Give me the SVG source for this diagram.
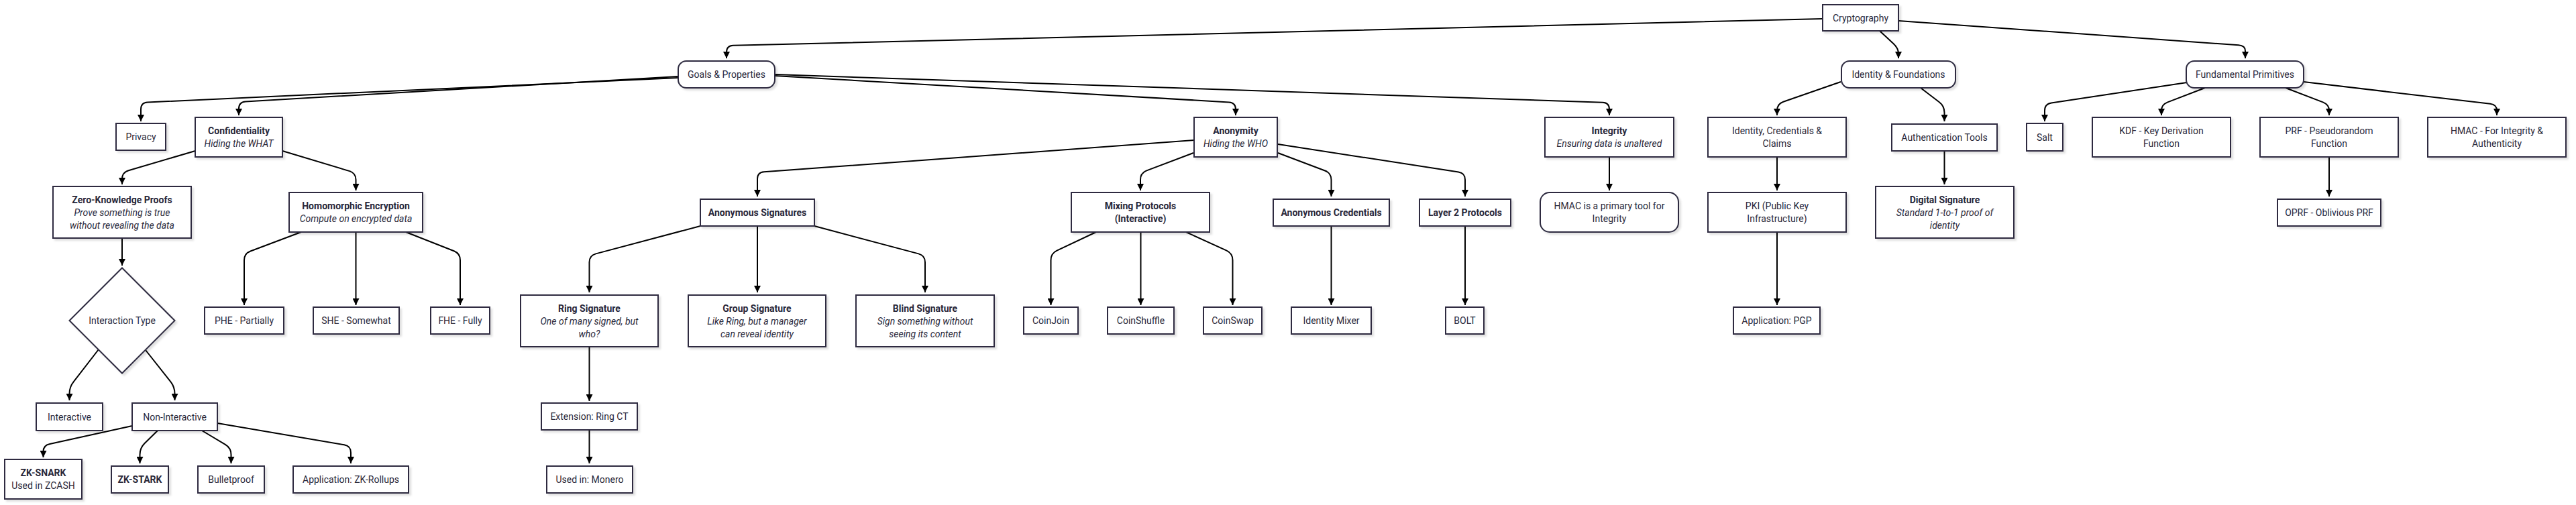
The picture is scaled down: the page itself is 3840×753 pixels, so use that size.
<svg xmlns="http://www.w3.org/2000/svg" width="3840" height="753" viewBox="0 0 3840 753">
<style>
.n{fill:#fff;stroke:#2d2c40;stroke-width:2;filter:url(#sh)}
text{font-family:Roboto,"Liberation Sans",sans-serif;font-size:14px;fill:#29283a;text-anchor:middle;dominant-baseline:central}
.b{font-weight:bold}
.i{font-style:italic}
.e path{fill:none;stroke:#000;stroke-width:2;marker-end:url(#ar)}
</style>
<defs>
<filter id="sh" x="-10%" y="-10%" width="130%" height="140%">
<feDropShadow dx="3" dy="3" stdDeviation="1.5" flood-color="#000" flood-opacity="0.12"/>
</filter>
<marker id="ar" viewBox="0 0 10 10" markerWidth="10" markerHeight="10" refX="10" refY="5" orient="auto" markerUnits="userSpaceOnUse">
<path d="M0,0 L10,5 L0,10 z" fill="#000"/>
</marker>
</defs>
<rect width="3840" height="753" fill="#fff"/>

<g class="e" id="edges">
<path d="M2717,28 L1093,67.8 Q1083,68 1083,78 L1083,87"/>
<path d="M2802,46 L2822.7,65.2 Q2830,72 2830,80 L2830,87"/>
<path d="M2830,31 L3337,67.3 Q3347,68 3347,76 L3347,87"/>
<path d="M1011,116 L220,152.5 Q210,153 210,163 L210,181"/>
<path d="M1011,114 L366,151.4 Q356,152 356,162 L356,172"/>
<path d="M1155,113 L1832,152.4 Q1842,153 1842,163 L1842,172"/>
<path d="M1155,111 L2389,152.7 Q2399,153 2399,163 L2399,172"/>
<path d="M291,225 L191.6,254.2 Q182,257 182,267 L182,275"/>
<path d="M421,225 L521,255.1 Q530.5,258 530.5,268 L530.5,284"/>
<path d="M182,355 L182,396"/>
<path d="M449,346 L373.4,374.5 Q364,378 364,388 L364,455"/>
<path d="M530.5,346 L530.5,455"/>
<path d="M605,346 L676.7,374.3 Q686,378 686,388 L686,455"/>
<path d="M147,521 L109.8,569.2 Q103.5,577 103.5,587 L103.5,597"/>
<path d="M217,522 L254.3,569.2 Q260.5,577 260.5,587 L260.5,597"/>
<path d="M197,635 L74.3,661.9 Q64.5,664 64.5,673 L64.5,682"/>
<path d="M235,642 L215.6,661 Q208.5,668 208.5,678 L208.5,691"/>
<path d="M301,642 L335.9,662.9 Q344.5,668 344.5,678 L344.5,691"/>
<path d="M324,631 L513.1,663.3 Q523,665 523,675 L523,691"/>
<path d="M1780,209 L1139,256.3 Q1129,257 1129,267 L1129,293"/>
<path d="M1779,228 L1709.3,254.4 Q1700,258 1700,268 L1700,284"/>
<path d="M1905,228 L1975.1,254.5 Q1984.5,258 1984.5,268 L1984.5,293"/>
<path d="M1905,215 L2174.1,256.5 Q2184,258 2184,268 L2184,293"/>
<path d="M1634,346 L1575.5,373.7 Q1566.5,378 1566.5,388 L1566.5,455"/>
<path d="M1700.5,346 L1700.5,455"/>
<path d="M1768,346 L1828.5,373.7 Q1837.5,378 1837.5,388 L1837.5,455"/>
<path d="M1984.5,337 L1984.5,455"/>
<path d="M2184,337 L2184,455"/>
<path d="M1044,337 L888.2,378.4 Q878.5,381 878.5,391 L878.5,436"/>
<path d="M1129,337 L1129,436"/>
<path d="M1214,337 L1369.3,378.4 Q1379,381 1379,391 L1379,436"/>
<path d="M878.5,517 L878.5,598"/>
<path d="M878.5,641 L878.5,691"/>
<path d="M2399,234 L2399,284"/>
<path d="M2744,122 L2658.4,151.7 Q2649,155 2649,165 L2649,172"/>
<path d="M2863,131 L2890.5,152 Q2898.5,158 2898.5,168 L2898.5,181"/>
<path d="M2649,234 L2649,284"/>
<path d="M2649,346 L2649,455"/>
<path d="M2898.5,225 L2898.5,275"/>
<path d="M3260,123 L3057.9,153.5 Q3048,155 3048,165 L3048,181"/>
<path d="M3287,131 L3231.3,152.4 Q3222,156 3222,165 L3222,172"/>
<path d="M3407,131 L3462.7,152.4 Q3472,156 3472,165 L3472,172"/>
<path d="M3434,122 L3712.1,154.8 Q3722,156 3722,165 L3722,172"/>
<path d="M3472,234 L3472,293"/>
</g>

<g id="cryptography"><rect class="n" x="2717" y="7" width="113" height="39"/><text x="2773.5" y="26.5">Cryptography</text></g>
<g id="goals"><rect class="n" x="1011" y="91" width="144" height="40" rx="12"/><text x="1083" y="111">Goals &amp; Properties</text></g>
<g id="identity-foundations"><rect class="n" x="2745" y="91" width="170" height="40" rx="12"/><text x="2830" y="111">Identity &amp; Foundations</text></g>
<g id="fundamental"><rect class="n" x="3259" y="91" width="175" height="40" rx="12"/><text x="3346.5" y="111">Fundamental Primitives</text></g>

<g id="privacy"><rect class="n" x="173" y="184" width="74" height="40"/><text x="210" y="204">Privacy</text></g>
<g id="confidentiality"><rect class="n" x="291" y="175" width="130" height="59"/><text class="b" x="356" y="195">Confidentiality</text><text class="i" x="356" y="214">Hiding the WHAT</text></g>
<g id="anonymity"><rect class="n" x="1780" y="175" width="124" height="59"/><text class="b" x="1842" y="195">Anonymity</text><text class="i" x="1842" y="214">Hiding the WHO</text></g>
<g id="integrity"><rect class="n" x="2303" y="175" width="192" height="59"/><text class="b" x="2399" y="195">Integrity</text><text class="i" x="2399" y="214">Ensuring data is unaltered</text></g>
<g id="idcc"><rect class="n" x="2546" y="175" width="206" height="59"/><text x="2649" y="195">Identity, Credentials &amp;</text><text x="2649" y="214">Claims</text></g>
<g id="authtools"><rect class="n" x="2820" y="185" width="157" height="40"/><text x="2898.5" y="205">Authentication Tools</text></g>
<g id="salt"><rect class="n" x="3021" y="184" width="54" height="41"/><text x="3048" y="204.5">Salt</text></g>
<g id="kdf"><rect class="n" x="3119" y="175" width="206" height="59"/><text x="3222" y="195">KDF - Key Derivation</text><text x="3222" y="214">Function</text></g>
<g id="prf"><rect class="n" x="3369" y="175" width="206" height="59"/><text x="3472" y="195">PRF - Pseudorandom</text><text x="3472" y="214">Function</text></g>
<g id="hmac"><rect class="n" x="3619" y="175" width="206" height="59"/><text x="3722" y="195">HMAC - For Integrity &amp;</text><text x="3722" y="214">Authenticity</text></g>

<g id="zkp"><rect class="n" x="79" y="278" width="206" height="77"/><text class="b" x="182" y="297.5">Zero-Knowledge Proofs</text><text class="i" x="182" y="316.5">Prove something is true</text><text class="i" x="182" y="335.5">without revealing the data</text></g>
<g id="he"><rect class="n" x="431" y="287" width="199" height="59"/><text class="b" x="530.5" y="307">Homomorphic Encryption</text><text class="i" x="530.5" y="326">Compute on encrypted data</text></g>
<g id="anonsig"><rect class="n" x="1044" y="297" width="170" height="40"/><text class="b" x="1129" y="317">Anonymous Signatures</text></g>
<g id="mixing"><rect class="n" x="1597" y="287" width="206" height="59"/><text class="b" x="1700" y="307">Mixing Protocols</text><text class="b" x="1700" y="326">(Interactive)</text></g>
<g id="anoncreds"><rect class="n" x="1898" y="297" width="173" height="40"/><text class="b" x="1984.5" y="317">Anonymous Credentials</text></g>
<g id="layer2"><rect class="n" x="2116" y="297" width="136" height="40"/><text class="b" x="2184" y="317">Layer 2 Protocols</text></g>
<g id="hmac-primary"><rect class="n" x="2296" y="287" width="206" height="59" rx="14"/><text x="2399" y="307">HMAC is a primary tool for</text><text x="2399" y="326">Integrity</text></g>
<g id="pki"><rect class="n" x="2546" y="287" width="206" height="59"/><text x="2649" y="307">PKI (Public Key</text><text x="2649" y="326">Infrastructure)</text></g>
<g id="digsig"><rect class="n" x="2796" y="278" width="206" height="77"/><text class="b" x="2899" y="297.5">Digital Signature</text><text class="i" x="2899" y="316.5">Standard 1-to-1 proof of</text><text class="i" x="2899" y="335.5">identity</text></g>
<g id="oprf"><rect class="n" x="3395" y="297" width="154" height="40"/><text x="3472" y="317">OPRF - Oblivious PRF</text></g>

<g id="interaction-type"><path class="n" d="M182,399.5 L260.5,478 L182,556.5 L103.5,478 Z"/><text x="182" y="478">Interaction Type</text></g>
<g id="phe"><rect class="n" x="305" y="458" width="118" height="40"/><text x="364" y="478">PHE - Partially</text></g>
<g id="she"><rect class="n" x="467" y="458" width="128" height="40"/><text x="531" y="478">SHE - Somewhat</text></g>
<g id="fhe"><rect class="n" x="642" y="458" width="88" height="40"/><text x="686" y="478">FHE - Fully</text></g>
<g id="ring"><rect class="n" x="776" y="440" width="205" height="77"/><text class="b" x="878.5" y="459.5">Ring Signature</text><text class="i" x="878.5" y="478.5">One of many signed, but</text><text class="i" x="878.5" y="497.5">who?</text></g>
<g id="group"><rect class="n" x="1026" y="440" width="205" height="77"/><text class="b" x="1128.5" y="459.5">Group Signature</text><text class="i" x="1128.5" y="478.5">Like Ring, but a manager</text><text class="i" x="1128.5" y="497.5">can reveal identity</text></g>
<g id="blind"><rect class="n" x="1276" y="440" width="206" height="77"/><text class="b" x="1379" y="459.5">Blind Signature</text><text class="i" x="1379" y="478.5">Sign something without</text><text class="i" x="1379" y="497.5">seeing its content</text></g>
<g id="coinjoin"><rect class="n" x="1526" y="458" width="81" height="40"/><text x="1566.5" y="478">CoinJoin</text></g>
<g id="coinshuffle"><rect class="n" x="1651" y="458" width="99" height="40"/><text x="1700.5" y="478">CoinShuffle</text></g>
<g id="coinswap"><rect class="n" x="1794" y="458" width="87" height="40"/><text x="1837.5" y="478">CoinSwap</text></g>
<g id="idmixer"><rect class="n" x="1925" y="458" width="119" height="40"/><text x="1984.5" y="478">Identity Mixer</text></g>
<g id="bolt"><rect class="n" x="2155" y="458" width="57" height="40"/><text x="2183.5" y="478">BOLT</text></g>
<g id="pgp"><rect class="n" x="2584" y="458" width="129" height="40"/><text x="2648.5" y="478">Application: PGP</text></g>

<g id="interactive"><rect class="n" x="54" y="601" width="99" height="41"/><text x="103.5" y="621.5">Interactive</text></g>
<g id="noninteractive"><rect class="n" x="197" y="601" width="127" height="41"/><text x="260.5" y="621.5">Non-Interactive</text></g>
<g id="ringct"><rect class="n" x="807" y="601" width="143" height="40"/><text x="878.5" y="621">Extension: Ring CT</text></g>

<g id="zksnark"><rect class="n" x="7" y="685" width="115" height="59"/><text class="b" x="64.5" y="705">ZK-SNARK</text><text x="64.5" y="724">Used in ZCASH</text></g>
<g id="zkstark"><rect class="n" x="166" y="695" width="85" height="40"/><text class="b" x="208.5" y="715">ZK-STARK</text></g>
<g id="bulletproof"><rect class="n" x="295" y="695" width="99" height="40"/><text x="344.5" y="715">Bulletproof</text></g>
<g id="zkrollups"><rect class="n" x="437" y="695" width="172" height="40"/><text x="523" y="715">Application: ZK-Rollups</text></g>
<g id="monero"><rect class="n" x="815" y="695" width="128" height="40"/><text x="879" y="715">Used in: Monero</text></g>
</svg>
